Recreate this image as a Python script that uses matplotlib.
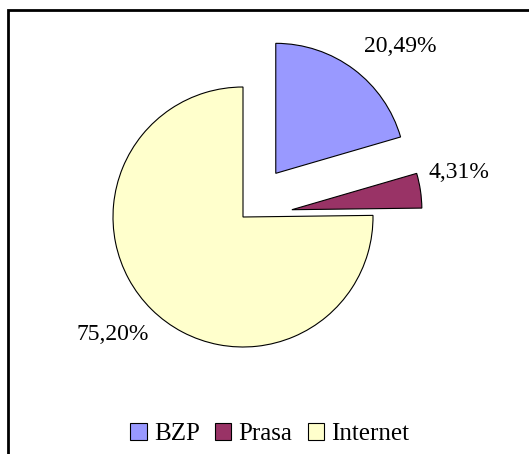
import matplotlib
matplotlib.use("Agg")
import matplotlib.pyplot as plt
from matplotlib.patches import Rectangle

# data
labels = ["BZP", "Prasa", "Internet"]
shares = [20.49, 4.31, 75.20]
colors = ["#9999FF", "#993366", "#FFFFCC"]
explode = [0.42, 0.38, 0.0]

# label spots (data units, pie radius = 1)
label_pos = [(1.21, 1.31), (1.66, 0.34), (-1.0, -0.90)]

plt.rcParams['font.family'] = ['Liberation Serif', 'DejaVu Serif']

W, H = 529, 454
fig = plt.figure(figsize=(W / 100, H / 100), dpi=100)
ax = fig.add_axes([0, 0, 1, 1])

# pie centre at pixel (243, 217), radius 130 px
r_px = 130.0
cx, cy = 243.0, 217.0

wedges, _ = ax.pie(shares, colors=colors, explode=explode, startangle=90,
                   counterclock=False, radius=1.0, center=(0, 0),
                   wedgeprops=dict(edgecolor="black", linewidth=0.8),
                   frame=True)
ax.set_xlim(-cx / r_px, (W - cx) / r_px)
ax.set_ylim(-(H - cy) / r_px, cy / r_px)
ax.set_aspect("auto")
ax.axis("off")

for v, (x, y) in zip(shares, label_pos):
    txt = ("%.2f%%" % v).replace(".", ",")
    ax.text(x, y, txt, fontsize=17, ha="center", va="center")

leg = fig.legend(wedges, labels, loc="center", bbox_to_anchor=(0.51, 1 - 434 / H),
                 ncol=3, frameon=False, fontsize=18, handlelength=0.65,
                 handleheight=0.65, handletextpad=0.3, columnspacing=0.6)

# outer chart frame (right and bottom run off the image)
fig.patches.append(Rectangle((8 / W, -0.1), 1.2, 1 - 10 / H + 0.1,
                             transform=fig.transFigure, fill=False,
                             edgecolor="black", linewidth=2.0))

fig.savefig("out.png", dpi=100)
